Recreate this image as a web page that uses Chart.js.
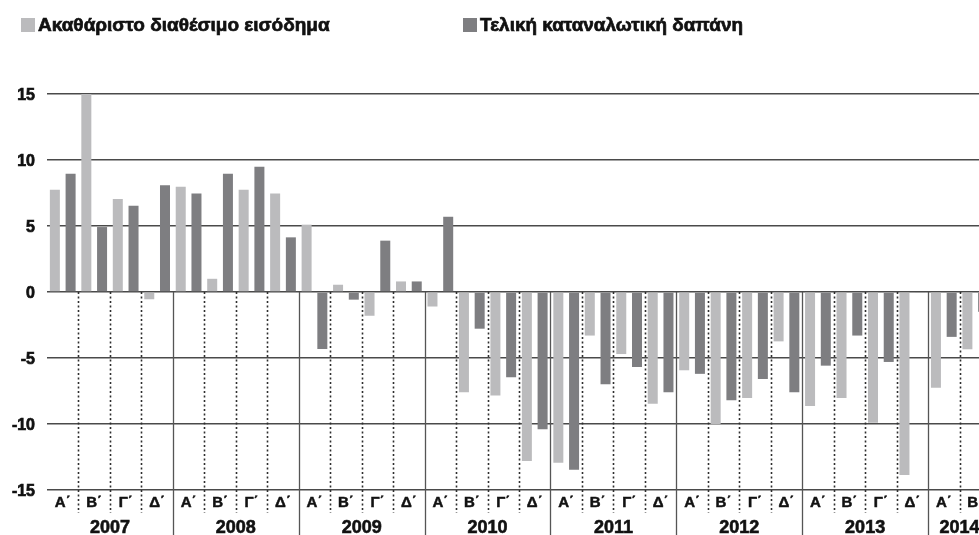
<!DOCTYPE html>
<html><head><meta charset="utf-8">
<script src="https://cdn.jsdelivr.net/npm/chart.js@4/dist/chart.umd.min.js"></script>
<style>
html,body{margin:0;padding:0;background:#fff;overflow:hidden;width:979px;height:535px;}
#wrap{position:absolute;left:0;top:0;width:991px;height:535px;}
</style></head><body>
<div id="wrap"><canvas id="c"></canvas></div>
<script>
const quarterLabels = [
  'Α΄','Β΄','Γ΄','Δ΄', 'Α΄','Β΄','Γ΄','Δ΄', 'Α΄','Β΄','Γ΄','Δ΄', 'Α΄','Β΄','Γ΄','Δ΄',
  'Α΄','Β΄','Γ΄','Δ΄', 'Α΄','Β΄','Γ΄','Δ΄', 'Α΄','Β΄','Γ΄','Δ΄', 'Α΄','Β΄'
];
const years = ['2007','2008','2009','2010','2011','2012','2013','2014'];
const seriesNames = ['Ακαθάριστο διαθέσιμο εισόδημα', 'Τελική καταναλωτική δαπάνη'];
const incomeValues = [
  7.75, 15.15, 7.05, -0.55,
  7.98, 1.0, 7.75, 7.47,
  5.1, 0.55, -1.8, 0.8,
  -1.1, -7.6, -7.85, -12.8,
  -12.93, -3.3, -4.7, -8.46,
  -5.93, -10.0, -8.03, -3.74,
  -8.64, -8.03, -9.9, -13.86,
  -7.25, -4.34
];
const consumptionValues = [
  8.96, 4.92, 6.54, 8.08,
  7.47, 8.96, 9.49, 4.14,
  -4.32, -0.58, 3.89, 0.8,
  5.7, -2.78, -6.46, -10.4,
  -13.46, -6.99, -5.68, -7.6,
  -6.2, -8.2, -6.6, -7.6,
  -5.58, -3.3, -5.3, -0.05,
  -3.4, -1.5
];
const yTickValues = [15, 10, 5, 0, -5, -10, -15];

const FONT = '"Liberation Sans", Arial, sans-serif';
const lightColor = '#bbbbbd';
const darkColor = '#7e7e81';
const textColor = '#111';

const separatorPlugin = {
  id: 'separators',
  beforeDatasetsDraw(chart) {
    const ctx = chart.ctx;
    const xs = chart.scales.x;
    const ys = chart.scales.y;
    const y0 = ys.getPixelForValue(0);
    const n = quarterLabels.length;
    ctx.save();
    for (let i = 1; i < n; i++) {
      const x = Math.round((xs.getPixelForValue(i - 1) + xs.getPixelForValue(i)) / 2) + 0.5;
      ctx.beginPath();
      if (i % 4 === 0) {
        ctx.setLineDash([]);
        ctx.strokeStyle = '#555';
        ctx.lineWidth = 1.3;
        ctx.moveTo(x, y0);
        ctx.lineTo(x, chart.height);
      } else {
        ctx.setLineDash([2, 2.5]);
        ctx.strokeStyle = '#2e2e2e';
        ctx.lineWidth = 1.6;
        ctx.moveTo(x, y0);
        ctx.lineTo(x, ys.bottom + 23);
      }
      ctx.stroke();
    }
    ctx.restore();
  }
};

const legendPlugin = {
  id: 'topLegend',
  afterDraw(chart) {
    const ctx = chart.ctx;
    const spots = [{box: 21, text: 38, w: 296}, {box: 463, text: 480, w: 263}];
    ctx.save();
    chart.data.datasets.forEach((ds, i) => {
      const s = spots[i];
      ctx.fillStyle = ds.backgroundColor;
      ctx.fillRect(s.box, 18, 14, 14);
      ctx.fillStyle = textColor;
      ctx.strokeStyle = textColor;
      ctx.lineWidth = 0.7;
      ctx.font = 'bold 19px ' + FONT;
      ctx.textBaseline = 'middle';
      ctx.textAlign = 'left';
      ctx.fillText(ds.label, s.text, 25.5, s.w);
      ctx.strokeText(ds.label, s.text, 25.5, s.w);
    });
    ctx.restore();
  }
};

new Chart(document.getElementById('c'), {
  type: 'bar',
  data: {
    labels: quarterLabels,
    datasets: [
      { label: seriesNames[0], data: incomeValues, backgroundColor: lightColor,
        categoryPercentage: 1.0, barPercentage: 0.636 },
      { label: seriesNames[1], data: consumptionValues, backgroundColor: darkColor,
        categoryPercentage: 1.0, barPercentage: 0.636 }
    ]
  },
  options: {
    responsive: true,
    maintainAspectRatio: false,
    animation: false,
    layout: { padding: { top: 94, left: 0, right: 0, bottom: 0 } },
    plugins: { legend: { display: false }, tooltip: { enabled: false } },
    scales: {
      y: {
        min: -15, max: 15,
        afterFit(s) { s.width = 47; },
        afterBuildTicks(s) { s.ticks = yTickValues.map(v => ({ value: v })); },
        border: { display: false },
        grid: { color: '#4a4a4a', lineWidth: 1.5, drawTicks: false },
        ticks: {
          padding: 12,
          labelOffset: 2,
          color: textColor,
          textStrokeColor: textColor,
          textStrokeWidth: 0.7,
          font: { family: FONT, size: 16, weight: 'bold' },
          callback: v => String(v)
        }
      },
      x: {
        type: 'category',
        position: 'bottom',
        weight: 0,
        offset: true,
        afterFit(s) { s.height = 22; },
        border: { display: false },
        grid: { display: false, drawTicks: false },
        ticks: {
          autoSkip: false, maxRotation: 0, minRotation: 0,
          padding: 4,
          color: textColor,
          textStrokeColor: textColor,
          textStrokeWidth: 0.5,
          font: { family: FONT, size: 15, weight: 'bold' }
        }
      },
      x2: {
        type: 'linear',
        position: 'bottom',
        weight: 1,
        offset: false,
        bounds: 'data',
        min: -0.5,
        max: quarterLabels.length - 0.5,
        afterFit(s) { s.height = 23; },
        afterBuildTicks(s) {
          const n = quarterLabels.length;
          s.ticks = years.map((y, k) => ({ value: (4 * k + Math.min(4 * k + 3, n - 1)) / 2 }));
        },
        border: { display: false },
        grid: { display: false, drawTicks: false },
        ticks: {
          autoSkip: false, maxRotation: 0, minRotation: 0,
          padding: 5,
          color: textColor,
          textStrokeColor: textColor,
          textStrokeWidth: 0.6,
          font: { family: FONT, size: 18, weight: 'bold' },
          callback: v => years[Math.floor(v / 4)]
        }
      }
    }
  },
  plugins: [separatorPlugin, legendPlugin]
});
</script>
</body></html>
